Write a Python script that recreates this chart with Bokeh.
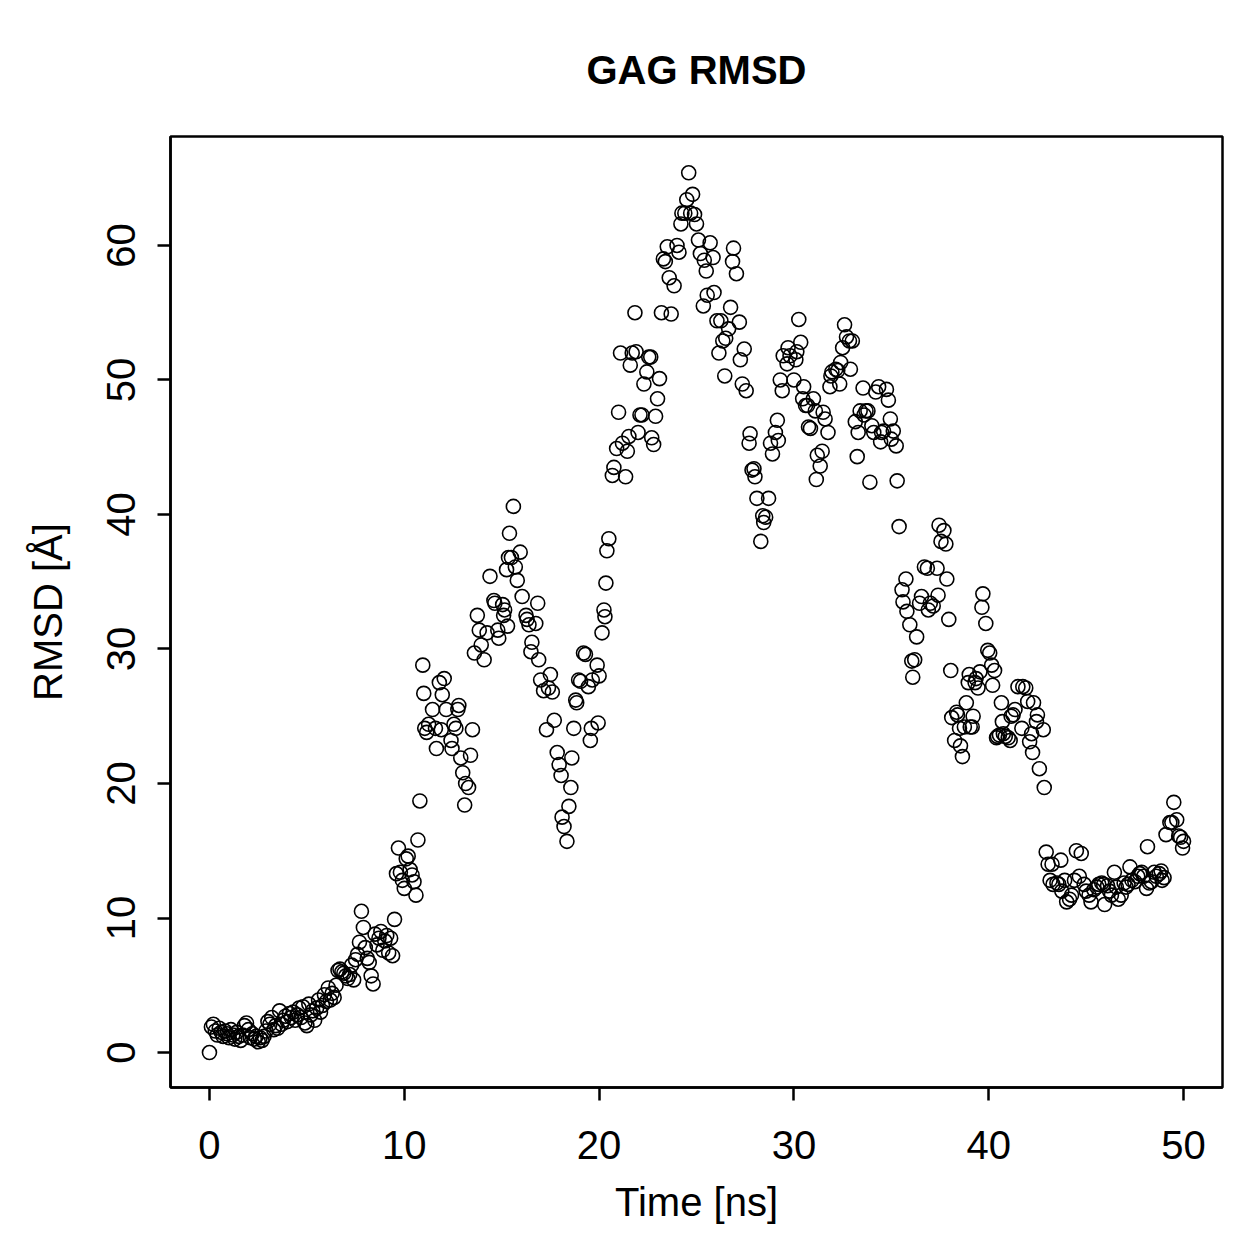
from bokeh.plotting import figure
from bokeh.models import Range1d, FixedTicker
from bokeh.embed import file_html
from bokeh.resources import INLINE

# Trajectory time (ns) and backbone RMSD (Angstrom)
time_ns = [
    0.0, 0.1, 0.2, 0.3, 0.4, 0.5, 0.6, 0.7, 0.8, 0.9, 1.0, 1.1, 1.2, 1.3, 1.4, 1.5, 1.6, 1.7, 1.8, 1.9,
    2.0, 2.1, 2.2, 2.3, 2.4, 2.5, 2.6, 2.7, 2.8, 2.9, 3.0, 3.1, 3.2, 3.3, 3.4, 3.5, 3.6, 3.7, 3.8, 3.9,
    4.0, 4.1, 4.2, 4.3, 4.4, 4.5, 4.6, 4.7, 4.8, 4.9, 5.0, 5.1, 5.2, 5.3, 5.4, 5.5,
    5.6, 5.7, 5.8, 5.9, 6.0, 6.1, 6.2, 6.3, 6.4, 6.5, 6.6, 6.7, 6.8, 6.9, 7.0, 7.1, 7.2, 7.3, 7.4, 7.5,
    7.6, 7.7, 7.8, 7.9, 8.0, 8.1, 8.2, 8.3, 8.4, 8.5, 8.6, 8.7, 8.8, 8.9, 9.0, 9.1, 9.2, 9.3, 9.4, 9.5,
    9.6, 9.7, 9.8, 9.9, 10.0, 10.1, 10.2, 10.3, 10.4, 10.5, 10.6, 10.7, 10.8,
    10.95, 11.0, 11.05, 11.15, 11.25, 11.45, 11.6, 11.65, 11.8, 11.9, 11.95, 12.05, 12.15, 12.4, 12.45,
    12.55, 12.65, 12.75, 12.8, 12.9, 13.0, 13.1, 13.15, 13.3, 13.4, 13.5, 13.6, 13.75, 13.85, 13.95,
    14.1, 14.25, 14.4, 14.6, 14.65, 14.8, 14.85, 15.05, 15.1, 15.15, 15.25, 15.3, 15.35, 15.4, 15.5,
    15.6, 15.7, 15.8, 15.95, 16.05, 16.25, 16.3, 16.4, 16.5, 16.55, 16.75, 16.85, 16.9, 17.0, 17.15,
    17.3, 17.4, 17.5, 17.6, 17.7, 17.85, 17.95, 18.05, 18.1, 18.2, 18.35, 18.45, 18.55, 18.6, 18.7,
    18.8, 18.85, 18.95, 19.05, 19.2, 19.3, 19.45, 19.55, 19.6, 19.65, 19.9, 19.95, 20.0, 20.15, 20.25,
    20.3, 20.35, 20.4, 20.5,
    20.68, 20.76, 20.9, 21.0, 21.1, 21.2, 21.36, 21.45, 21.53, 21.6, 21.7, 21.84, 21.9, 22.0, 22.1,
    22.2, 22.3, 22.45, 22.55, 22.65, 22.7, 22.8, 22.9, 23.0, 23.1, 23.2, 23.3, 23.4, 23.5, 23.6,
    23.7, 23.85, 24.0, 24.1, 24.2, 24.25, 24.4, 24.5, 24.6, 24.7, 24.8, 24.9, 25.0, 25.1,
    25.2, 25.35, 25.4, 25.5, 25.55, 25.7, 25.85, 25.9, 26.05, 26.15, 26.25, 26.35, 26.45, 26.5, 26.65,
    26.75, 26.85, 26.9, 27.05, 27.2, 27.25, 27.35, 27.45, 27.55, 27.7, 27.75, 27.85, 27.95, 28.0, 28.1,
    28.3, 28.4, 28.45, 28.55, 28.7, 28.8, 28.9, 29.05, 29.15, 29.2, 29.3, 29.4, 29.45, 29.65, 29.7,
    29.8, 30.0, 30.1, 30.15, 30.25, 30.35, 30.45, 30.5, 30.6, 30.7, 30.75,
    30.85, 31.0, 31.1, 31.15, 31.2, 31.35, 31.45, 31.5, 31.6, 31.75, 31.85, 31.9, 31.95, 32.15, 32.25,
    32.35, 32.4, 32.5, 32.6, 32.7, 32.85, 32.9, 33.0, 33.15, 33.25, 33.3, 33.4, 33.55, 33.6, 33.7,
    33.8, 33.9, 34.0, 34.1, 34.2, 34.35, 34.45, 34.5, 34.6, 34.75, 34.85, 34.95, 35.0, 35.1, 35.25,
    35.3, 35.4,
    35.55, 35.6, 35.75, 35.8, 35.95, 36.05, 36.1, 36.2, 36.3, 36.45, 36.55, 36.7, 36.85, 36.9, 37.0,
    37.15, 37.35, 37.4, 37.45, 37.55, 37.7, 37.8, 37.85, 37.95, 38.05, 38.1, 38.25, 38.35, 38.4, 38.5,
    38.55, 38.65, 38.75, 38.85, 38.95, 39.0, 39.05, 39.15, 39.2, 39.3, 39.35, 39.45, 39.55, 39.65, 39.7,
    39.85, 39.95, 40.05, 40.15, 40.2, 40.3, 40.4, 40.45, 40.55, 40.65, 40.7, 40.75, 40.85, 41.0, 41.1,
    41.15, 41.25, 41.35, 41.5, 41.7, 41.75, 41.9, 42.0, 42.1, 42.2, 42.25, 42.3, 42.45, 42.5, 42.6,
    42.8, 42.85,
    42.95, 43.05, 43.15, 43.25, 43.3, 43.5, 43.6, 43.7, 43.75, 43.9, 44.0, 44.15, 44.25, 44.4, 44.5,
    44.65, 44.75, 44.9, 45.0, 45.15, 45.25, 45.4, 45.55, 45.65, 45.8, 45.9, 45.95, 46.1, 46.2, 46.3,
    46.45, 46.55, 46.65, 46.8, 46.95, 47.05, 47.15, 47.25, 47.35, 47.5, 47.65, 47.75, 47.85, 47.95, 48.1,
    48.15, 48.25, 48.35, 48.5, 48.6, 48.75, 48.85, 48.9, 49.0, 49.1, 49.3, 49.4, 49.5, 49.65, 49.75,
    49.85, 49.95, 50.0,
]

rmsd_A = [
    0.0, 1.9, 2.1, 1.6, 1.3, 1.8, 1.5, 1.2, 1.6, 1.4, 1.1, 1.7, 1.3, 1.0, 1.5, 1.2, 0.9, 1.3, 2.0, 2.2,
    1.7, 1.1, 1.4, 1.0, 1.2, 0.8, 1.1, 0.9, 1.2, 1.6, 2.3, 2.1, 2.6, 1.7, 2.0, 1.8, 3.1, 2.1, 2.4, 2.7,
    2.3, 2.9, 2.6, 3.0, 2.4, 2.8, 3.3, 2.6, 3.4, 2.2, 2.0, 3.6, 2.8, 3.1, 2.4, 3.3,
    3.9, 3.0, 3.5, 4.3, 3.8, 4.8, 3.9, 4.4, 4.1, 5.0, 6.1, 6.2, 6.0, 5.9, 5.7, 5.5, 5.8, 6.5, 5.4, 6.9,
    7.3, 8.2, 10.5, 9.3, 7.8, 7.0, 6.7, 5.7, 5.1, 8.8, 8.0, 8.5, 9.0, 7.6, 8.3, 8.7, 7.4, 8.5, 7.2, 9.9,
    13.3, 15.2, 13.4, 12.8, 12.2, 14.4, 14.6, 13.6, 13.2, 12.7, 11.7, 15.8, 18.7,
    28.8, 26.7, 24.1, 23.8, 24.4, 25.5, 24.1, 22.6, 27.5, 24.0, 26.6, 27.8, 25.5, 23.2, 22.6,
    24.4, 24.1, 25.5, 25.8, 21.9, 20.8, 18.4, 20.0, 19.7, 22.1, 24.0, 29.7, 32.5, 31.4, 30.3,
    29.2, 31.2, 35.4, 33.6, 33.4, 31.4, 30.8, 33.3, 32.5, 32.9, 35.9, 31.7, 36.8, 38.6, 36.8,
    40.6, 36.1, 35.1, 37.2, 33.9, 32.5, 32.2, 31.8, 29.8, 30.5, 31.9, 33.4, 29.2, 27.7, 26.9,
    24.0, 27.1, 28.1, 26.8, 24.7, 22.3, 21.4, 20.6, 17.5, 16.8, 15.7, 18.3, 19.7, 21.9, 24.1,
    26.2, 26.0, 27.7, 27.6, 29.7, 29.6, 27.2, 23.2, 24.1, 27.7, 28.8, 24.5, 28.0, 31.2, 32.9,
    32.4, 34.9, 37.3, 38.2,
    42.9, 43.5, 44.9, 47.6, 52.0, 45.3, 42.8, 44.7, 45.8, 51.1, 52.0, 55.0, 52.1, 46.1, 47.4,
    47.4, 49.7, 50.6, 51.7, 51.7, 45.7, 45.2, 47.3, 48.6, 50.1, 55.0, 59.0, 58.8, 59.9, 57.6,
    54.9, 57.0, 60.0, 59.5, 61.6, 62.4, 62.4, 63.4, 65.4, 62.4, 63.8, 62.3, 61.6, 60.4,
    59.4, 55.5, 58.9, 58.1, 56.3, 60.2, 59.1, 56.5, 54.4, 52.0, 54.4, 52.9, 50.3, 53.1, 53.8,
    55.4, 58.8, 59.8, 57.9, 54.3, 51.5, 49.7, 52.3, 49.2, 45.3, 46.0, 43.3, 43.4, 42.8, 41.2,
    38.0, 39.9, 39.4, 39.8, 41.2, 45.3, 44.5, 46.1, 47.0, 45.5, 50.0, 49.2, 51.8, 51.2, 52.4,
    51.8, 50.0, 51.5, 52.1, 54.5, 52.8, 48.6, 49.5, 48.1, 48.1, 46.5,
    46.4, 48.6, 47.7, 42.6, 44.4, 43.6, 44.7, 47.6, 47.1, 46.1, 49.5, 50.3, 50.6, 50.8, 50.7,
    49.7, 51.3, 52.4, 54.1, 53.2, 52.9, 50.8, 52.9, 46.9, 44.3, 46.1, 47.7, 49.4, 47.4, 47.7,
    47.7, 42.4, 46.6, 46.1, 49.1, 49.5, 45.4, 46.1, 46.2, 49.3, 48.5, 47.1, 45.6, 46.2, 45.1,
    42.5, 39.1,
    34.4, 33.5, 35.2, 32.8, 31.8, 29.1, 27.9, 29.2, 30.9, 33.4, 33.9, 36.1, 36.0, 32.9, 33.4,
    33.2, 36.0, 34.0, 39.2, 38.0, 38.8, 37.8, 35.2, 32.2, 28.4, 24.9, 23.2, 25.3, 25.1, 24.1,
    22.8, 22.0, 24.2, 26.0, 27.5, 28.1, 24.2, 24.2, 25.0, 27.5, 27.8, 27.1, 28.3, 33.1, 34.1,
    31.9, 29.9, 29.7, 28.8, 27.3, 28.4, 23.4, 23.5, 23.6, 26.0, 24.6, 23.7, 23.5, 23.4, 23.2,
    25.0, 25.1, 25.5, 27.2, 24.1, 27.2, 27.1, 26.1, 23.1, 23.7, 22.3, 26.0, 24.6, 25.1, 21.1,
    24.0, 19.7,
    14.9, 14.0, 12.8, 14.0, 12.5, 12.6, 12.5, 14.3, 12.0, 12.8, 11.2, 11.4, 11.7, 12.8, 15.0,
    13.1, 14.8, 12.5, 12.0, 11.7, 11.2, 12.1, 12.3, 12.5, 12.6, 12.5, 11.0, 12.4, 12.0, 11.7,
    13.4, 12.3, 11.4, 11.7, 12.6, 12.3, 12.5, 13.8, 12.8, 12.7, 13.1, 13.3, 13.4, 13.1, 12.2,
    15.3, 12.6, 12.7, 13.4, 13.1, 13.3, 13.5, 12.8, 13.0, 16.2, 17.1, 17.1, 18.6, 17.3, 16.1,
    16.0, 15.2, 15.7,
]

x_ticks = [0, 10, 20, 30, 40, 50]
y_ticks = [0, 10, 20, 30, 40, 50, 60]

FONT = "Liberation Sans"

p = figure(
    width=1259, height=1259,
    output_backend="svg", toolbar_location=None,
    x_range=Range1d(-2, 52), y_range=Range1d(-2.6, 68.1),
    min_border_left=170, min_border_right=37,
    min_border_top=135, min_border_bottom=172,
    title="GAG RMSD",
)

p.scatter(time_ns, rmsd_A, marker="circle", size=14,
          fill_color=None, line_color="black", line_width=1.6)

p.title.align = "center"
p.title.text_font = FONT
p.title.text_font_size = "40px"
p.title.text_font_style = "bold"
p.title.text_color = "black"
p.title.offset = 0
p.title.standoff = 90

p.grid.visible = False
p.outline_line_color = "black"
p.outline_line_width = 2.5
p.background_fill_color = "white"
p.border_fill_color = "white"

p.xaxis.ticker = FixedTicker(ticks=x_ticks)
p.yaxis.ticker = FixedTicker(ticks=y_ticks)
p.xaxis.axis_label = "Time [ns]"
p.yaxis.axis_label = "RMSD [Å]"
p.yaxis.major_label_orientation = "vertical"

for ax in (p.xaxis, p.yaxis):
    ax.axis_line_color = "black"
    ax.axis_line_width = 2.5
    ax.major_tick_line_color = "black"
    ax.major_tick_line_width = 2.5
    ax.major_tick_out = 13
    ax.major_tick_in = 0
    ax.minor_tick_line_color = None
    ax.major_label_text_font = FONT
    ax.major_label_text_font_size = "40px"
    ax.major_label_text_color = "black"
    ax.axis_label_text_font = FONT
    ax.axis_label_text_font_size = "40px"
    ax.axis_label_text_font_style = "normal"
    ax.axis_label_text_color = "black"

p.xaxis.major_label_standoff = 30
p.xaxis.axis_label_standoff = 18
p.yaxis.major_label_standoff = 22
p.yaxis.axis_label_standoff = 35

open("out.html", "w").write(file_html(p, INLINE))
